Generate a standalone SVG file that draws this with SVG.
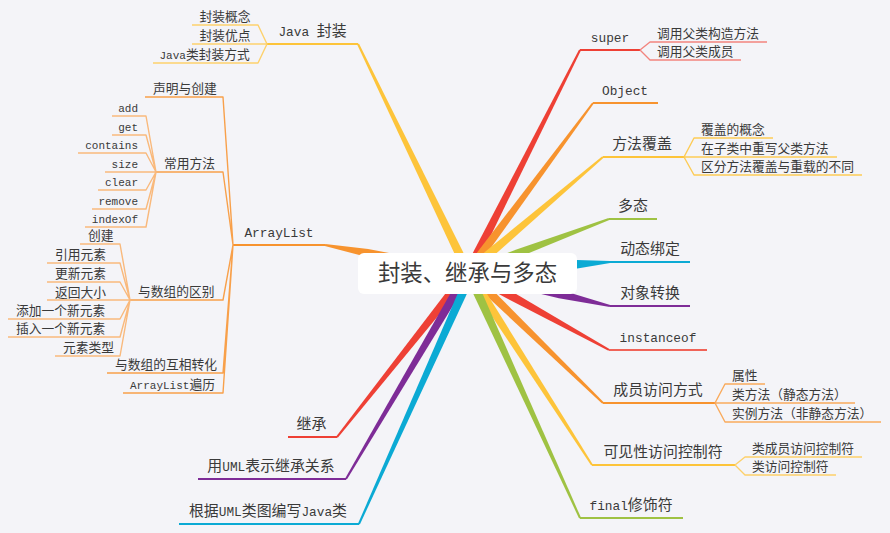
<svg xmlns="http://www.w3.org/2000/svg" width="890" height="533" viewBox="0 0 890 533">
<style>
.t{font-family:"Noto Sans CJK SC","Noto Sans",sans-serif;fill:#3a3a3a}
.s{font-size:12.75px}
.m{font-size:14.9px;text-anchor:middle}
.ms{font-family:"Liberation Mono",monospace;font-size:11px}
.mm{font-family:"Liberation Mono",monospace;font-size:12.8px}
.u{fill:none;stroke-width:2;stroke-linejoin:round}
.c{fill:none;stroke-width:1.4;stroke-linejoin:round}
.yel{fill:#FDC43A}.ora{fill:#F7932E}.red{fill:#EE4035}.grn{fill:#9FC243}.cya{fill:#0BAAD4}.pur{fill:#7E2C97}
</style>
<rect width="890" height="533" fill="#F4F4F8"/>
<g id="connectors">
  <g id="branches">
    <polygon class="yel" transform="translate(468 272) rotate(-115.75)" points="0,-4.25 21.1,-4.25 253.1,-1 253.1,1 21.1,4.25 0,4.25"/>
    <polygon class="ora" transform="translate(468 272) rotate(-169.31)" points="0,-4 102.4,-4 145.5,-1 145.5,1 102.4,4 0,4"/>
    <polygon class="red" transform="translate(468 272) rotate(128.45)" points="0,-4.25 28.1,-4.25 210.7,-1 210.7,1 28.1,4.25 0,4.25"/>
    <polygon class="pur" transform="translate(468 272) rotate(120.51)" points="0,-4.25 25.5,-4.25 240.3,-1 240.3,1 25.5,4.25 0,4.25"/>
    <polygon class="cya" transform="translate(472 272) rotate(114.16)" points="0,-4.25 24.1,-4.25 276.2,-1 276.2,1 24.1,4.25 0,4.25"/>
    <polygon class="red" transform="translate(468 272) rotate(-63.23)" points="0,-4.25 21.3,-4.25 248.7,-1 248.7,1 21.3,4.25 0,4.25"/>
    <polygon class="ora" transform="translate(468 272) rotate(-53.51)" points="0,-4.25 23.6,-4.25 210.2,-1 210.2,1 23.6,4.25 0,4.25"/>
    <polygon class="yel" transform="translate(468 272) rotate(-40.43)" points="0,-4.25 29.3,-4.25 177.3,-1 177.3,1 29.3,4.25 0,4.25"/>
    <polygon class="grn" transform="translate(468 272) rotate(-20.6)" points="0,-4 54,-4 150.6,-1 150.6,1 54,4 0,4"/>
    <polygon class="cya" transform="translate(468 272) rotate(-4.03)" points="0,-4.25 109.3,-4.25 142.4,-1 142.4,1 109.3,4.25 0,4.25"/>
    <polygon class="pur" transform="translate(468 272) rotate(13.47)" points="0,-4.25 94.5,-4.25 146,-1 146,1 94.5,4.25 0,4.25"/>
    <polygon class="red" transform="translate(468 272) rotate(28.95)" points="0,-4.25 45.4,-4.25 161.1,-1 161.1,1 45.4,4.25 0,4.25"/>
    <polygon class="ora" transform="translate(468 272) rotate(44.14)" points="0,-4.25 31.6,-4.25 188.1,-1 188.1,1 31.6,4.25 0,4.25"/>
    <polygon class="yel" transform="translate(468 272) rotate(57.28)" points="0,-4.25 26.1,-4.25 229.4,-1 229.4,1 26.1,4.25 0,4.25"/>
    <polygon class="grn" transform="translate(468 272) rotate(65.52)" points="0,-4.25 24.2,-4.25 270.3,-1 270.3,1 24.2,4.25 0,4.25"/>
  </g>
  <g id="underlines">
    <path class="u" stroke="#FDC43A" d="M358,44H267"/>
    <path class="u" stroke="#F7932E" d="M325,245H233"/>
    <path class="u" stroke="#EE4035" d="M337,437H288"/>
    <path class="u" stroke="#7E2C97" d="M346,479H198"/>
    <path class="u" stroke="#0BAAD4" d="M359,524H179"/>
    <path class="u" stroke="#EE4035" d="M580,50H640"/>
    <path class="u" stroke="#F7932E" d="M593,103H658"/>
    <path class="u" stroke="#FDC43A" d="M603,157H684"/>
    <path class="u" stroke="#9FC243" d="M609,219H657"/>
    <path class="u" stroke="#0BAAD4" d="M610,262H690"/>
    <path class="u" stroke="#7E2C97" d="M610,306H690"/>
    <path class="u" stroke="#F06358" d="M609,350H707"/>
    <path class="u" stroke="#F7932E" d="M603,403H715"/>
    <path class="u" stroke="#FDC43A" d="M592,465H735"/>
    <path class="u" stroke="#9FC243" d="M580,518H683"/>
  </g>
  <g id="sub-connectors">
    <path class="c" stroke="#FDD16C" d="M267,44L258,25H192M267,44H192M267,44L258,63H153"/>
    <path class="c" stroke="#F8A04A" d="M233,245L223,97H145M233,245L223,172H156M233,245L223,300H130M233,245L223,373H107M233,245L223,393H123"/>
    <path class="c" stroke="#F9B97C" d="M156,172L146,116H112M156,172L146,135H112M156,172L146,153H78M156,172H105M156,172L146,190H98M156,172L146,209H92M156,172L146,227H85"/>
    <path class="c" stroke="#F9B97C" d="M130,300L120,244H80M130,300L120,263H47M130,300L120,282H47M130,300H47M130,300L120,319H8M130,300L120,337H8M130,300L120,356H55"/>
    <path class="c" stroke="#F2847E" d="M640,50L650,42H767M640,50L650,60H741"/>
    <path class="c" stroke="#FDCB55" d="M684,157L694,138H773M684,157H837M684,157L694,175H862"/>
    <path class="c" stroke="#F9AA5C" d="M715,403L725,384H765M715,403H855M715,403L725,422H881"/>
    <path class="c" stroke="#FDD06A" d="M735,465L745,457H862M735,465L745,475H836"/>
  </g>
</g>
<g id="center">
  <rect x="358" y="253" width="219" height="41" rx="6" fill="#FFFFFF"/>
  <text class="t" x="467.5" y="281" font-size="22.4" text-anchor="middle" fill="#222">封装、继承与多态</text>
</g>
<g id="java-encap"><text class="t m" x="312.5" y="36"><tspan class="mm">Java </tspan>封装</text></g>
<g id="java-encap-1"><text class="t s" x="199.5" y="21">封装概念</text></g>
<g id="java-encap-2"><text class="t s" x="199.5" y="40">封装优点</text></g>
<g id="java-encap-3"><text class="t s" x="159.5" y="59"><tspan class="ms">Java</tspan>类封装方式</text></g>
<g id="arraylist"><text class="t m" x="279" y="237"><tspan class="mm">ArrayList</tspan></text></g>
<g id="al-decl"><text class="t s" x="153" y="93">声明与创建</text></g>
<g id="al-methods"><text class="t s" x="164" y="168">常用方法</text></g>
<g id="m-add"><text class="t ms" x="138" y="112" text-anchor="end">add</text></g>
<g id="m-get"><text class="t ms" x="138" y="131" text-anchor="end">get</text></g>
<g id="m-contains"><text class="t ms" x="138" y="149" text-anchor="end">contains</text></g>
<g id="m-size"><text class="t ms" x="138" y="168" text-anchor="end">size</text></g>
<g id="m-clear"><text class="t ms" x="138" y="186" text-anchor="end">clear</text></g>
<g id="m-remove"><text class="t ms" x="138" y="205" text-anchor="end">remove</text></g>
<g id="m-indexof"><text class="t ms" x="138" y="223" text-anchor="end">indexOf</text></g>
<g id="al-diff"><text class="t s" x="138" y="296">与数组的区别</text></g>
<g id="d-create"><text class="t s" x="88" y="240">创建</text></g>
<g id="d-ref"><text class="t s" x="55" y="259">引用元素</text></g>
<g id="d-update"><text class="t s" x="55" y="278">更新元素</text></g>
<g id="d-size"><text class="t s" x="55" y="296.5">返回大小</text></g>
<g id="d-add"><text class="t s" x="16" y="315">添加一个新元素</text></g>
<g id="d-insert"><text class="t s" x="16" y="333">插入一个新元素</text></g>
<g id="d-type"><text class="t s" x="63" y="352">元素类型</text></g>
<g id="al-convert"><text class="t s" x="115" y="369">与数组的互相转化</text></g>
<g id="al-iterate"><text class="t s" x="130" y="389"><tspan class="ms">ArrayList</tspan>遍历</text></g>
<g id="inherit"><text class="t m" x="311.5" y="429">继承</text></g>
<g id="uml"><text class="t m" x="271" y="471">用<tspan class="mm">UML</tspan>表示继承关系</text></g>
<g id="uml-java"><text class="t m" x="268" y="516">根据<tspan class="mm">UML</tspan>类图编写<tspan class="mm">Java</tspan>类</text></g>
<g id="super"><text class="t m" x="610" y="42"><tspan class="mm">super</tspan></text></g>
<g id="super-1"><text class="t s" x="657" y="38">调用父类构造方法</text></g>
<g id="super-2"><text class="t s" x="657" y="56">调用父类成员</text></g>
<g id="object"><text class="t m" x="625" y="95"><tspan class="mm">Object</tspan></text></g>
<g id="override"><text class="t m" x="642" y="149">方法覆盖</text></g>
<g id="override-1"><text class="t s" x="701" y="134">覆盖的概念</text></g>
<g id="override-2"><text class="t s" x="701" y="153">在子类中重写父类方法</text></g>
<g id="override-3"><text class="t s" x="701" y="171">区分方法覆盖与重载的不同</text></g>
<g id="poly"><text class="t m" x="633" y="211">多态</text></g>
<g id="binding"><text class="t m" x="650" y="254">动态绑定</text></g>
<g id="cast"><text class="t m" x="650" y="298">对象转换</text></g>
<g id="instanceof"><text class="t m" x="658" y="342"><tspan class="mm">instanceof</tspan></text></g>
<g id="member"><text class="t m" x="658" y="395">成员访问方式</text></g>
<g id="member-1"><text class="t s" x="732" y="380">属性</text></g>
<g id="member-2"><text class="t s" x="732" y="399">类方法（静态方法）</text></g>
<g id="member-3"><text class="t s" x="732" y="418">实例方法（非静态方法）</text></g>
<g id="visibility"><text class="t m" x="663" y="457">可见性访问控制符</text></g>
<g id="visibility-1"><text class="t s" x="752" y="453">类成员访问控制符</text></g>
<g id="visibility-2"><text class="t s" x="752" y="471">类访问控制符</text></g>
<g id="final"><text class="t m" x="631" y="510"><tspan class="mm">final</tspan>修饰符</text></g>
</svg>
